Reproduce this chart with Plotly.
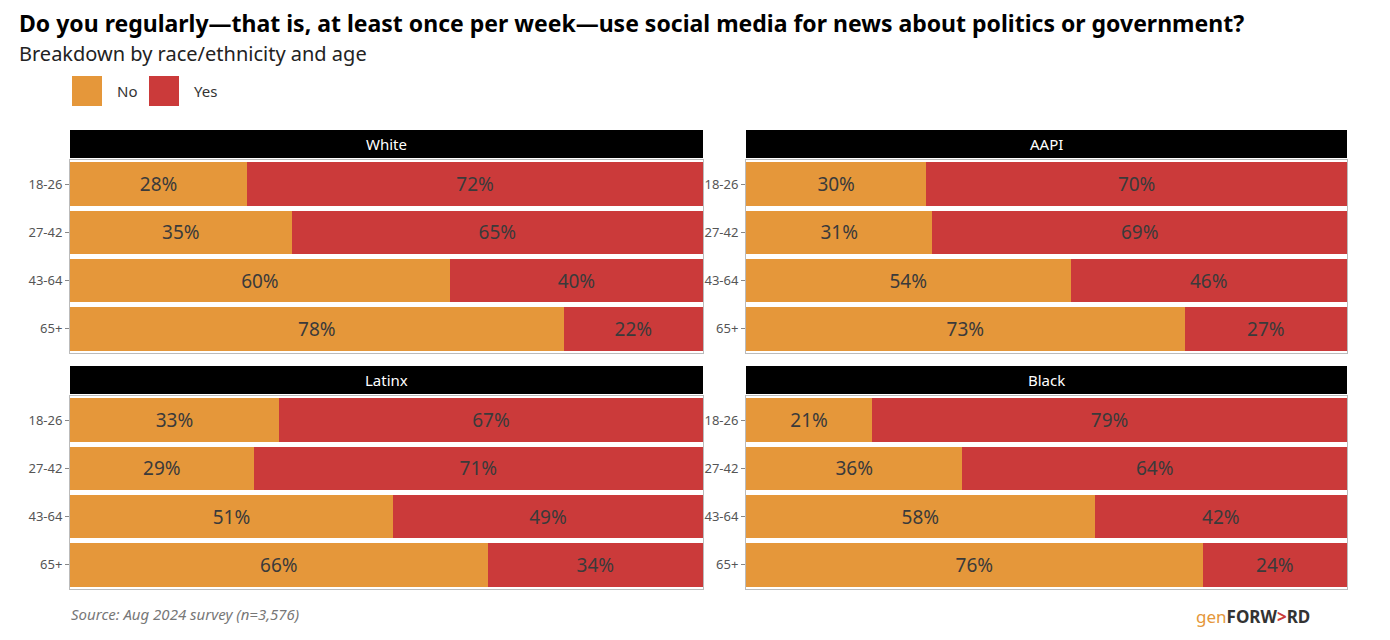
import plotly.graph_objects as go

ages = ["18-26", "27-42", "43-64", "65+"]
groups = ["White", "AAPI", "Latinx", "Black"]
no_vals = {"White": [28, 35, 60, 78], "AAPI": [30, 31, 54, 73],
           "Latinx": [33, 29, 51, 66], "Black": [21, 36, 58, 76]}
yes_vals = {"White": [72, 65, 40, 22], "AAPI": [70, 69, 46, 27],
            "Latinx": [67, 71, 49, 34], "Black": [79, 64, 42, 24]}

ORANGE = "#E5973A"
RED = "#CB3A3A"
FONT = "Noto Sans"
OFF = 8  # browser body margin
W, H = 1390 - OFF, 640 - OFF


def px(x):
    return (x - OFF) / W


def py(y):
    return 1 - (y - OFF) / H


xdoms = [(px(70), px(703)), (px(746), px(1347))]
ydoms = [(py(353), py(160)), (py(589), py(396))]
strips = [(py(158), py(130)), (py(394), py(366))]

fig = go.Figure()
shapes, annotations = [], []
for i, g in enumerate(groups):
    r, c = divmod(i, 2)
    ax = "" if i == 0 else str(i + 1)
    for name, vals, col in [("No", no_vals[g], ORANGE), ("Yes", yes_vals[g], RED)]:
        fig.add_trace(go.Bar(
            y=ages, x=vals, orientation="h", name=name, marker_color=col,
            marker_line_width=0, text=[f"{v}%" for v in vals],
            textposition="inside", insidetextanchor="middle",
            textfont=dict(size=19, color="#3a3a3a", family=FONT),
            showlegend=False, xaxis="x" + ax, yaxis="y" + ax))
    fig.layout["xaxis" + ax] = dict(domain=xdoms[c], range=[0, 100], showticklabels=False,
                                    showgrid=False, zeroline=False, anchor="y" + ax,
                                    showline=True, linecolor="#bbbbbb", mirror=True)
    fig.layout["yaxis" + ax] = dict(domain=ydoms[r], autorange="reversed", anchor="x" + ax,
                                    showgrid=False, ticks="outside", ticklen=4, tickcolor="#888",
                                    tickfont=dict(size=13, color="#555", family=FONT),
                                    showline=True, linecolor="#bbbbbb", mirror=True)
    shapes.append(dict(type="rect", xref="paper", yref="paper", x0=xdoms[c][0], x1=xdoms[c][1],
                       y0=strips[r][0], y1=strips[r][1], fillcolor="black", line_width=0))
    annotations.append(dict(xref="paper", yref="paper", x=sum(xdoms[c]) / 2, y=sum(strips[r]) / 2,
                            xanchor="center", yanchor="middle",
                            text=g, showarrow=False, font=dict(size=15, color="white", family=FONT)))

# legend
for x0, col, lbl in [(72, ORANGE, "No"), (149, RED, "Yes")]:
    shapes.append(dict(type="rect", xref="paper", yref="paper", x0=px(x0), x1=px(x0 + 30),
                       y0=py(106), y1=py(76), fillcolor=col, line_width=0))
    annotations.append(dict(xref="paper", yref="paper", x=px(x0 + 43), y=py(91), text=lbl,
                            showarrow=False, xanchor="left", yanchor="middle",
                            font=dict(size=15, color="#333", family=FONT)))

annotations += [
    dict(xref="paper", yref="paper", x=px(17), y=py(23), xanchor="left", yanchor="middle", showarrow=False,
         text="<b>Do you regularly—that is, at least once per week—use social media for news about politics or government?</b>",
         font=dict(size=23, color="black", family=FONT)),
    dict(xref="paper", yref="paper", x=px(17), y=py(53), xanchor="left", yanchor="middle", showarrow=False,
         text="Breakdown by race/ethnicity and age", font=dict(size=20, color="#222", family=FONT)),
    dict(xref="paper", yref="paper", x=px(69), y=py(614), xanchor="left", yanchor="middle", showarrow=False,
         text="<i>Source: Aug 2024 survey (n=3,576)</i>", font=dict(size=15, color="#777", family=FONT)),
    dict(xref="paper", yref="paper", x=px(1312), y=py(616), xanchor="right", yanchor="middle", showarrow=False,
         text="<span style='color:#E5973A'>gen</span><b><span style='color:#333'>FORW</span><span style='color:#CB3A3A'>&gt;</span><span style='color:#333'>RD</span></b>",
         font=dict(size=17, family=FONT)),
]

fig.update_layout(width=W, height=H, barmode="stack", bargap=0.1,
                  margin=dict(l=0, r=0, t=0, b=0), plot_bgcolor="white", paper_bgcolor="white",
                  shapes=shapes, annotations=annotations, uniformtext=dict(mode="show", minsize=10))
fig.write_html("out.html")
